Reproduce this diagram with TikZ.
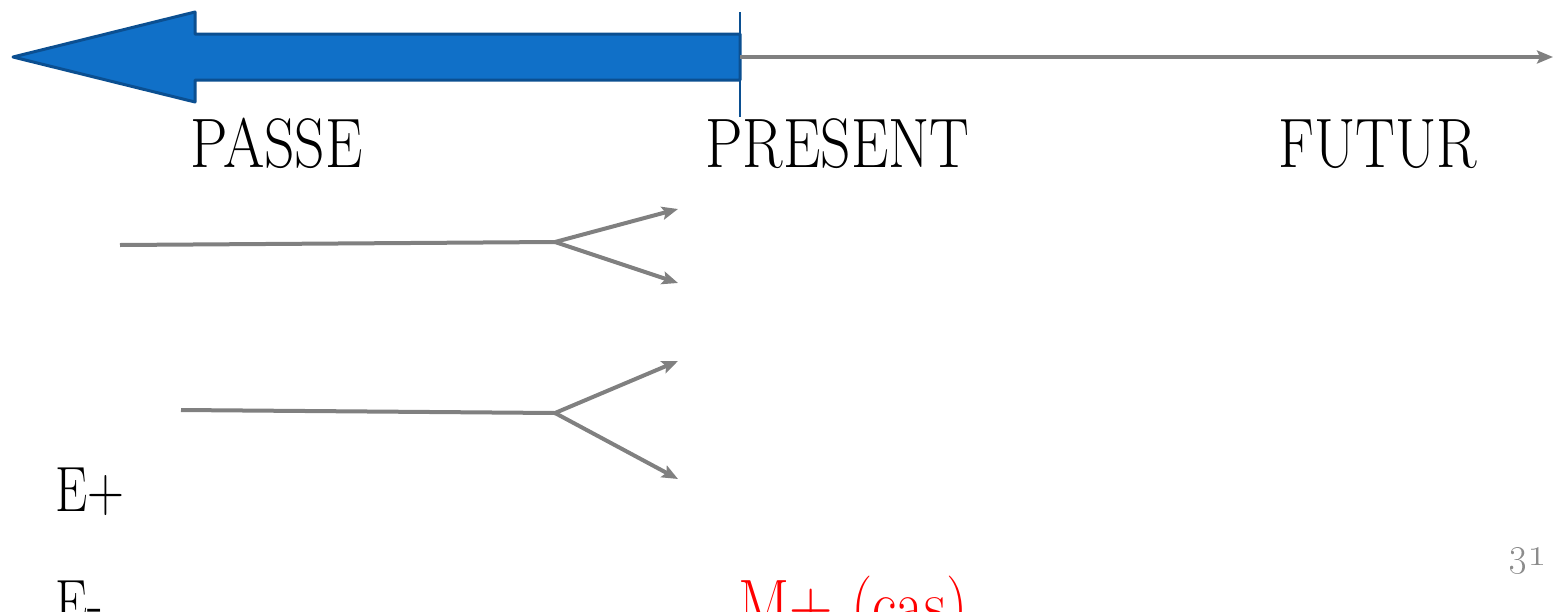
\documentclass[tikz,border=0pt]{standalone}
\usepackage{graphicx}
\usetikzlibrary{arrows.meta}
\definecolor{arrowblue}{HTML}{1070C8}
\definecolor{arrowedge}{HTML}{0B4F91}
\definecolor{axisgrey}{HTML}{808080}
\definecolor{pagegrey}{HTML}{8C8C8C}
\newcommand\narrowtext[2][0.85]{\scalebox{#1}[1]{#2}}
\begin{document}
\begin{tikzpicture}[x=0.5pt,y=-0.5pt,
  axis/.style={draw=axisgrey, line width=2pt},
  tipped/.style={-{Stealth[length=8pt,width=6.5pt,inset=1.5pt]}},
  word/.style={inner sep=0pt, anchor=base west, font=\fontsize{35}{40}\selectfont},
]
\useasboundingbox (0,0) rectangle (1553,611);
\clip (0,0) rectangle (1553,611);

% the past: broad blue arrow pointing left
\draw[fill=arrowblue, draw=arrowedge, line width=1.5pt, line join=round]
  (740,34) -- (195,34) -- (195,12) -- (13,57) -- (195,102) -- (195,80) -- (740,80) -- cycle;
% marker of the present
\draw[arrowedge, line width=0.8pt] (740,12) -- (740,117);

% the future: time axis
\coordinate (now) at (740,57);
\coordinate (later) at (1553,57);
\draw[axis, tipped] (now) -- (later);

% labels of the time axis
\node[word] (passe) at (190,167) {\narrowtext{PASSE}};
\node[word] (present) at (705,167) {\narrowtext{PRESENT}};
\node[word] (futur) at (1278,167) {\narrowtext{FUTUR}};

% first fork
\coordinate (a0) at (120,245);
\coordinate (a1) at (555,242);
\coordinate (a2) at (678,209);
\coordinate (a3) at (678,283);
\draw[axis] (a0) -- (a1);
\draw[axis, tipped] (a1) -- (a2);
\draw[axis, tipped] (a1) -- (a3);

% second fork
\coordinate (b0) at (181,410);
\coordinate (b1) at (555,413);
\coordinate (b2) at (678,361);
\coordinate (b3) at (678,479);
\draw[axis] (b0) -- (b1);
\draw[axis, tipped] (b1) -- (b2);
\draw[axis, tipped] (b1) -- (b3);

% lower labels
\node[word, font=\fontsize{32}{38}\selectfont] (eplus) at (55,511) {\narrowtext[0.8]{E+}};
\node[word, font=\fontsize{32}{38}\selectfont] (eminus) at (55,624) {\narrowtext[0.8]{E-}};
\node[word, text=red] (mplus) at (738,628) {\narrowtext[0.86]{M+ (cas)}};

% page number
\node[inner sep=0pt, anchor=base west, text=pagegrey, font=\fontsize{20}{24}\selectfont] (page) at (1508,565) {\oldstylenums{31}};
\end{tikzpicture}
\end{document}
